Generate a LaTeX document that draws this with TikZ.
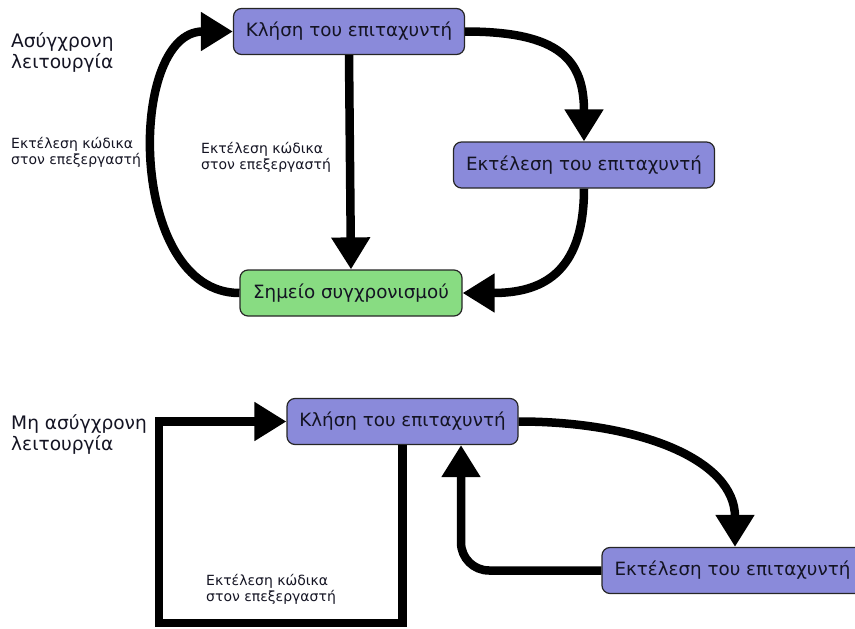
\documentclass[tikz,border=0pt]{standalone}
\usepackage{fontspec}
\setmainfont{DejaVu Sans}
\usetikzlibrary{arrows.meta}
\definecolor{accel}{RGB}{138,138,218}
\definecolor{sync}{RGB}{136,220,130}
\definecolor{ink}{RGB}{20,20,35}
\tikzset{
  box/.style={draw=black!85, line width=1.2pt, rounded corners=8pt,
    minimum height=46pt, inner sep=0pt, text=ink,
    font=\fontsize{18.3}{22}\selectfont},
  callbox/.style={box, fill=accel, minimum width=231pt},
  runbox/.style={box, fill=accel, minimum width=261pt},
  syncbox/.style={box, fill=sync, minimum width=222pt},
  flow/.style={line width=8.5pt, -{Triangle[length=32pt,width=37pt]}},
  note/.style={anchor=north west, inner sep=0pt, align=left, text=ink,
    font=\fontsize{14}{16.5}\selectfont},
  title/.style={anchor=north west, inner sep=0pt, align=left, text=ink,
    font=\fontsize{18.6}{21.5}\selectfont}
}
\begin{document}
\begin{tikzpicture}[x=1pt,y=-1pt]
\useasboundingbox (0,0) rectangle (855,629);

% asynchronous mode
\node[callbox] (k1) at (349,31.5) {Κλήση του επιταχυντή};
\node[runbox]  (e1) at (584,165) {Εκτέλεση του επιταχυντή};
\node[syncbox] (s1) at (351,293) {Σημείο συγχρονισμού};

\node[title] (t1) at (11,32) {Ασύγχρονη\\λειτουργία};
\node[note] (n1) at (11,137) {Εκτέλεση κώδικα\\στον επεξεργαστή};
\node[note] (n2) at (201,142) {Εκτέλεση κώδικα\\στον επεξεργαστή};

\draw[flow] (s1.west) .. controls (127,293) and (127,31.5) .. (k1.west);
\draw[flow] (k1.south) -- (s1.north);
\draw[flow] (k1.east) .. controls (560,31.5) and (584,60) .. (e1.north);
\draw[flow] (e1.south) .. controls (584,275) and (540,293) .. (s1.east);

% synchronous mode
\node[callbox] (k2) at (402.5,421.5) {Κλήση του επιταχυντή};
\node[runbox]  (e2) at (732.5,570.5) {Εκτέλεση του επιταχυντή};

\node[title] (t2) at (11,414) {Μη ασύγχρονη\\λειτουργία};
\node[note] (n3) at (206,574) {Εκτέλεση κώδικα\\στον επεξεργαστή};

\coordinate (c1) at (402.5,623);
\coordinate (c2) at (159,623);
\coordinate (c3) at (159,421.5);
\draw[flow] (k2.south) -- (c1) -- (c2) -- (c3) -- (k2.west);
\draw[flow] (k2.east) .. controls (640,421.5) and (735,460) .. (e2.north -| 735,0);
\coordinate (c4) at (461,570.5);
\draw[flow, rounded corners=28pt] (e2.west) -- (c4) -- (c4 |- k2.south);
\end{tikzpicture}
\end{document}
